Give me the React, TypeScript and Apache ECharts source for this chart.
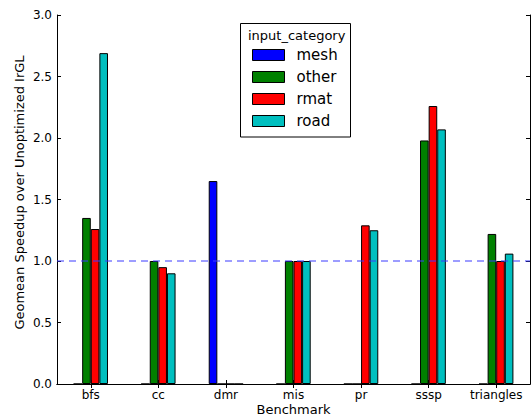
import React, { useEffect, useRef } from "react";
import * as echarts from "echarts";

const categories = ["bfs", "cc", "dmr", "mis", "pr", "sssp", "triangles"];
const seriesNames = ["mesh", "other", "rmat", "road"];
const meshValues = [0, 0, 1.65, 0, 0, 0, 0];
const otherValues = [1.35, 1.0, 0, 1.0, 0, 1.98, 1.22];
const rmatValues = [1.26, 0.95, 0, 1.0, 1.29, 2.26, 1.0];
const roadValues = [2.69, 0.9, 0, 1.0, 1.25, 2.07, 1.06];
const seriesColors = ["#0000ff", "#008000", "#ff0000", "#00bfbf"];
const yTicks = { min: 0, max: 3, interval: 0.5 };
const referenceLine = 1.0;

const FONT = "DejaVu Sans";
const DASH_COLOR = "#3a3aff";

export default function App() {
  const ref = useRef<HTMLDivElement>(null);
  useEffect(() => {
    if (!ref.current) return;
    const chart = echarts.init(ref.current, null, { renderer: "svg" });
    const values = [meshValues, otherValues, rmatValues, roadValues];
    const series: any[] = seriesNames.map((name, i) => ({
      name,
      type: "bar",
      xAxisIndex: 0,
      yAxisIndex: 0,
      data: values[i],
      barWidth: 8.6,
      barGap: "0%",
      itemStyle: { color: seriesColors[i], borderColor: "#000", borderWidth: 1 },
    }));
    series.push({
      name: "ref",
      type: "line",
      xAxisIndex: 2,
      yAxisIndex: 0,
      data: [
        [0, referenceLine],
        [1, referenceLine],
      ],
      showSymbol: false,
      symbol: "none",
      silent: true,
      z: 5,
      itemStyle: { color: DASH_COLOR },
      lineStyle: { color: DASH_COLOR, type: [7, 5], width: 1 },
      emphasis: { disabled: true },
    });
    const axisText = { color: "#000", fontFamily: FONT, fontSize: 12 };
    chart.setOption({
      animation: false,
      textStyle: { fontFamily: FONT },
      grid: { left: 57, right: 1, top: 15, bottom: 33, containLabel: false, outerBoundsMode: "none" },
      xAxis: [
        {
          type: "category",
          data: categories,
          position: "bottom",
          name: "Benchmark",
          nameLocation: "middle",
          nameGap: 18,
          nameMoveOverlap: false,
          nameTextStyle: { color: "#000", fontFamily: FONT, fontSize: 13, lineHeight: 14 },
          axisLine: { show: true, lineStyle: { color: "#000", width: 1 } },
          axisTick: { show: true, inside: true, alignWithLabel: true, interval: 0, length: 4, lineStyle: { color: "#000" } },
          axisLabel: { ...axisText, margin: 5, interval: 0 },
          splitLine: { show: false },
        },
        {
          type: "category",
          data: categories,
          position: "top",
          axisLine: { show: true, lineStyle: { color: "#000", width: 1 } },
          axisTick: { show: true, inside: true, alignWithLabel: true, interval: 0, length: 4, lineStyle: { color: "#000" } },
          axisLabel: { show: false },
          splitLine: { show: false },
        },
        {
          type: "value",
          min: 0,
          max: 1,
          show: false,
          splitLine: { show: false },
        },
      ],
      yAxis: [
        {
          type: "value",
          min: yTicks.min,
          max: yTicks.max,
          interval: yTicks.interval,
          position: "left",
          name: "Geomean Speedup over Unoptimized IrGL",
          nameLocation: "middle",
          nameGap: 31,
          nameMoveOverlap: false,
          nameTextStyle: { color: "#000", fontFamily: FONT, fontSize: 13, lineHeight: 14, padding: [0, 0, 0, 14] },
          axisLine: { show: true, lineStyle: { color: "#000", width: 1 } },
          axisTick: { show: true, inside: true, length: 4, lineStyle: { color: "#000" } },
          axisLabel: { ...axisText, margin: 5, formatter: (v: number) => v.toFixed(1) },
          splitLine: { show: false },
        },
        {
          type: "value",
          min: yTicks.min,
          max: yTicks.max,
          interval: yTicks.interval,
          position: "right",
          axisLine: { show: true, lineStyle: { color: "#000", width: 1 } },
          axisTick: { show: true, inside: true, length: 4, lineStyle: { color: "#000" } },
          axisLabel: { show: false },
          splitLine: { show: false },
        },
      ],
      legend: {
        orient: "vertical",
        left: 252,
        top: 46,
        itemWidth: 32,
        itemHeight: 11,
        itemGap: 4,
        padding: 0,
        icon: "rect",
        data: seriesNames,
        itemStyle: { borderColor: "#000", borderWidth: 1 },
        textStyle: { color: "#000", fontFamily: FONT, fontSize: 15, lineHeight: 18, padding: [0, 0, 0, 7] },
      },
      graphic: [
        {
          type: "rect",
          z: 3,
          shape: { x: 240.5, y: 23.5, width: 110, height: 113.5 },
          style: { fill: "#fff", stroke: "#000", lineWidth: 1 },
        },
        {
          type: "text",
          z: 4,
          x: 248,
          y: 35,
          style: { text: "input_category", fill: "#000", font: `13px '${FONT}'`, textVerticalAlign: "middle" },
        },
      ],
      series,
    });
    return () => chart.dispose();
  }, []);
  return (
    <div
      ref={ref}
      style={{ position: "absolute", left: 0, top: 0, width: 531, height: 417, background: "#fff" }}
    />
  );
}
